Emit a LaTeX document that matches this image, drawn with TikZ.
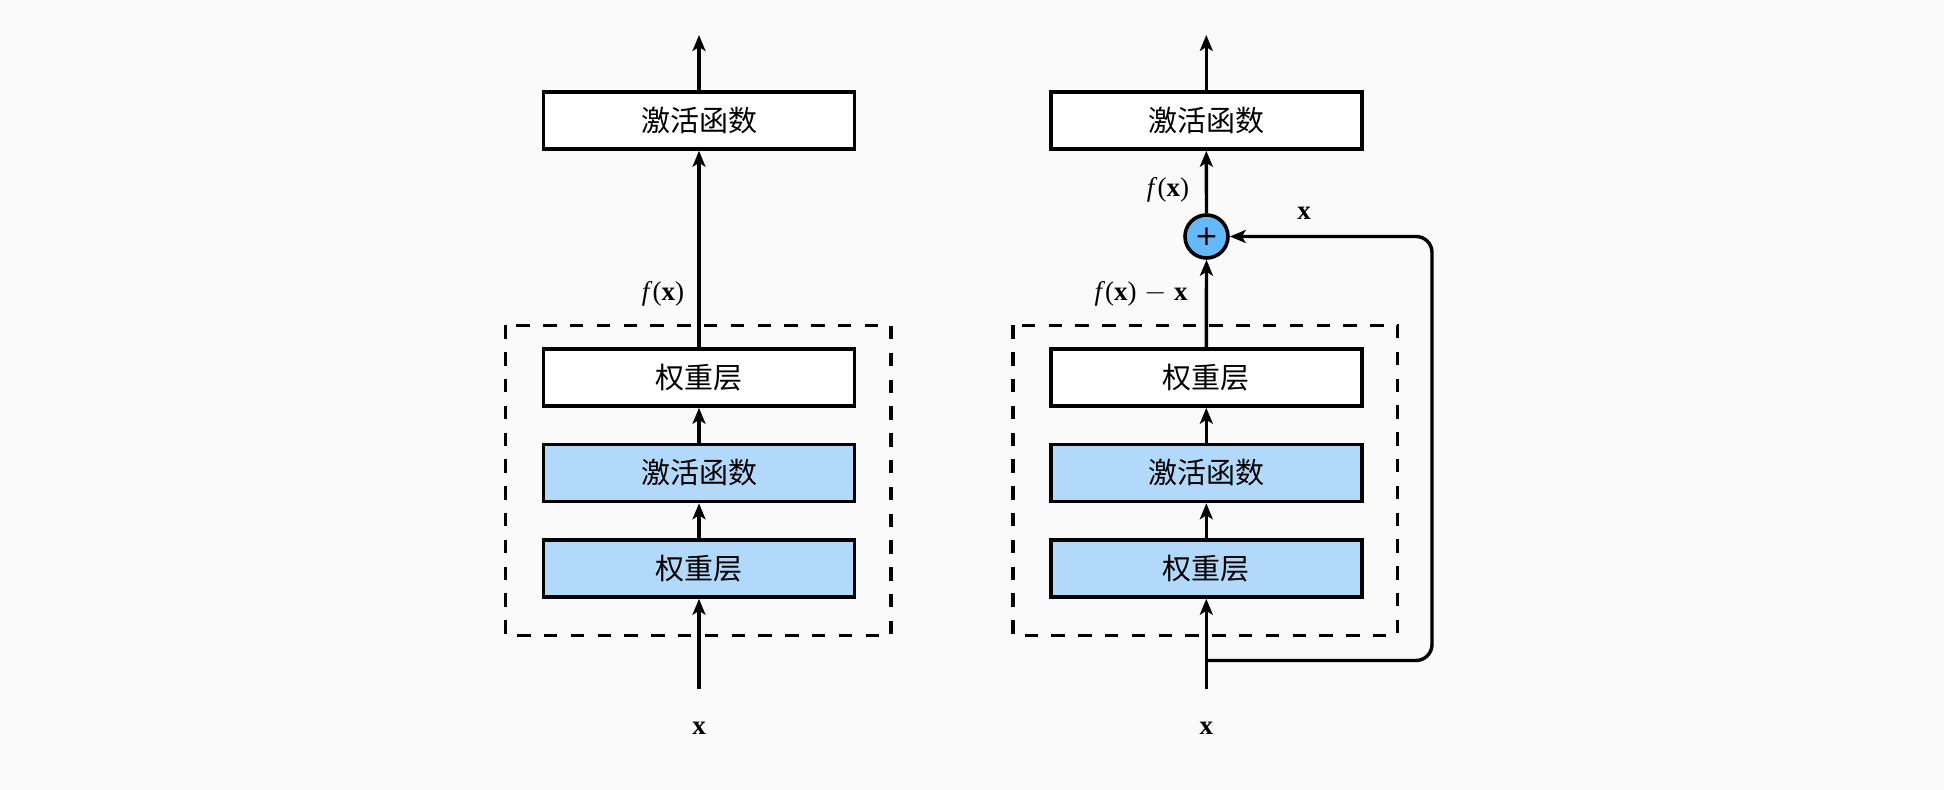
\documentclass[tikz,border=0pt]{standalone}
\usepackage{fontspec}
\setmainfont{Liberation Serif}
\newfontfamily\cjk{Noto Sans CJK SC}
\newfontfamily\plusfont{DejaVu Sans}
\usetikzlibrary{arrows.meta}
\definecolor{bg}{RGB}{250,250,250}
\definecolor{lblue}{RGB}{179,217,250}
\definecolor{cblue}{RGB}{100,185,248}
\tikzset{
  layer/.style={draw=black, line width=1.8pt, minimum width=155.5pt, minimum height=28.5pt, inner sep=0pt, font=\cjk\fontsize{14.5}{16}\selectfont},
  bluelayer/.style={layer, fill=lblue},
  whitelayer/.style={layer, fill=white},
  conn/.style={line width=1.7pt, -{Stealth[length=8pt,width=6.5pt,inset=2pt]}},
  dashbox/.style={line width=1.8pt, dash pattern=on 6.7pt off 6.7pt},
  lbl/.style={font=\fontsize{13.5}{15}\selectfont, inner sep=0pt},
  addnode/.style={circle, draw=black, line width=1.8pt, fill=cblue, minimum size=21.5pt, inner sep=0pt, font=\plusfont\fontsize{14}{14}\selectfont}
}
\begin{document}
\begin{tikzpicture}[x=0.5pt,y=-0.5pt]
\fill[bg] (0,0) rectangle (1944,790);
\useasboundingbox (0,0) rectangle (1944,790);
% left panel
\draw[dashbox] (505.5,325.5) rectangle (891,635.5);
\node[whitelayer] (Lact) at (699,120.5) {激活函数};
\node[whitelayer] (Lw2) at (699,377.5) {权重层};
\node[bluelayer] (Lact1) at (699,473) {激活函数};
\node[bluelayer] (Lw1) at (699,568.5) {权重层};
\coordinate (Lin) at (699,689);
\coordinate (Lout) at (699,35);
\node[lbl] (Lx) at (699,728) {\textbf{x}};
\node[lbl] (Lfx) at (663,294) {\textit{f}(\textbf{x})};
\draw[conn] (Lin) -- (Lw1.south);
\draw[conn] (Lw1.north) -- (Lact1.south);
\draw[conn] (Lact1.north) -- (Lw2.south);
\draw[conn] (Lw2.north) -- (Lact.south);
\draw[conn] (Lact.north) -- (Lout);
% right panel
\draw[dashbox] (1013,325.5) rectangle (1397.5,635.5);
\node[whitelayer] (Ract) at (1206.3,120.5) {激活函数};
\node[whitelayer] (Rw2) at (1206.3,377.5) {权重层};
\node[bluelayer] (Ract1) at (1206.3,473) {激活函数};
\node[bluelayer] (Rw1) at (1206.3,568.5) {权重层};
\node[addnode] (Radd) at (1206.5,236.5) {+};
\coordinate (Rin) at (1206.3,689);
\coordinate (Rout) at (1206.3,35);
\coordinate (Rsplit) at (1206.3,660.5);
\coordinate (Rcorner1) at (1432,660.5);
\coordinate (Rcorner2) at (1432,236.5);
\node[lbl] (Rx) at (1206.3,728) {\textbf{x}};
\node[lbl] (Rfx) at (1168,190) {\textit{f}(\textbf{x})};
\node[lbl] (Rfxx) at (1141,294) {\textit{f}(\textbf{x})\;$-$\;\textbf{x}};
\node[lbl] (Rxs) at (1304,213) {\textbf{x}};
\draw[conn] (Rin) -- (Rw1.south);
\draw[conn] (Rw1.north) -- (Ract1.south);
\draw[conn] (Ract1.north) -- (Rw2.south);
\draw[conn] (Rw2.north) -- (Radd.south);
\draw[conn] (Radd.north) -- (Ract.south);
\draw[conn] (Ract.north) -- (Rout);
\draw[conn, rounded corners=8pt] (Rsplit) -- (Rcorner1) -- (Rcorner2) -- (Radd.east);
\end{tikzpicture}
\end{document}
